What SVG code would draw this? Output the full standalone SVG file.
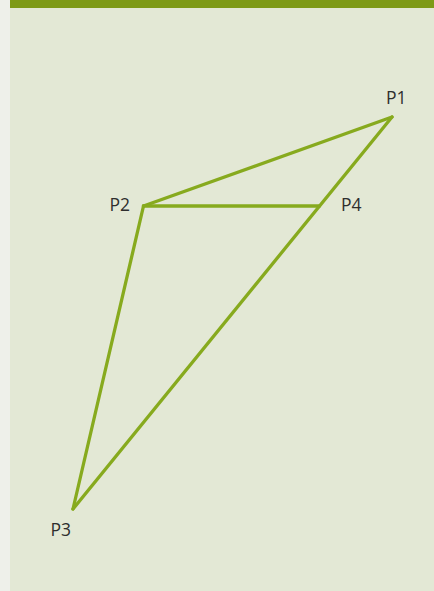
<svg xmlns="http://www.w3.org/2000/svg" width="434" height="591" viewBox="0 0 434 591">
<style>
.edge{stroke:#87aa1e;stroke-width:3.3;fill:none;stroke-linecap:round;stroke-linejoin:round}
.lbl{font-family:"Open Sans","Liberation Sans",sans-serif;font-size:17.5px;fill:#2e2e2e}
</style>
<rect x="0" y="0" width="434" height="591" fill="#e3e8d5"/>
<rect x="0" y="0" width="10" height="591" fill="#eef0ea"/>
<rect x="10" y="0" width="424" height="8" fill="#7e9a17"/>
<g id="connectors">
<line class="edge" x1="392" y1="117" x2="143.5" y2="206"/>
<line class="edge" x1="143.5" y1="206" x2="319.5" y2="206"/>
<line class="edge" x1="392" y1="117" x2="73" y2="509"/>
<line class="edge" x1="143.5" y1="206" x2="73" y2="509"/>
</g>
<g id="P1"><text class="lbl" x="386" y="103.5">P1</text></g>
<g id="P2"><text class="lbl" x="109.5" y="210.5">P2</text></g>
<g id="P4"><text class="lbl" x="341" y="211">P4</text></g>
<g id="P3"><text class="lbl" x="50.5" y="535.5">P3</text></g>
</svg>
